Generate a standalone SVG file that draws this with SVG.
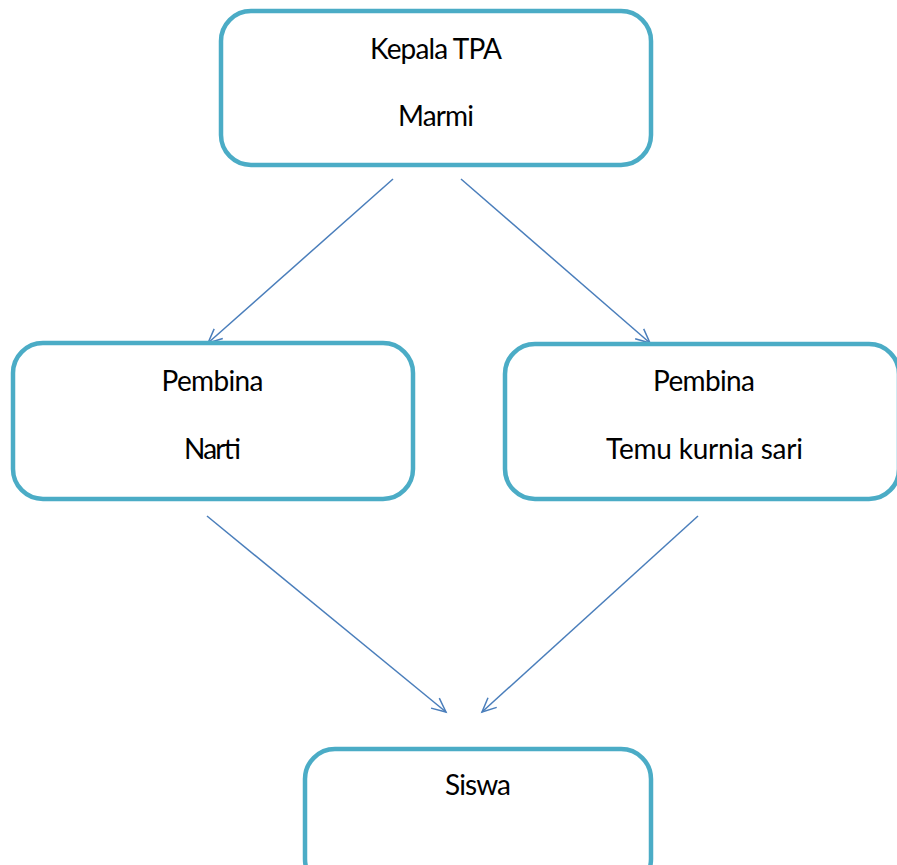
<svg xmlns="http://www.w3.org/2000/svg" width="897" height="865" viewBox="0 0 897 865">
<style>
.box{fill:#fff;stroke:#4BACC6;stroke-width:4.5}
.t{font-family:Lato,"Liberation Sans",sans-serif;font-size:28px;fill:#000;text-anchor:middle}
.c{stroke:#4A7EBB;stroke-width:1.5;fill:none}
</style>
<defs>
<marker id="arr" markerUnits="userSpaceOnUse" markerWidth="30" markerHeight="30" viewBox="-15 -15 30 30" refX="0" refY="0" orient="auto">
<path d="M -14 -6.5 L 0 0 L -14 6.5" fill="none" stroke="#4A7EBB" stroke-width="1.5"/>
</marker>
</defs>
<rect width="897" height="865" fill="#fff"/>
<g id="connectors">
<line class="c" x1="393" y1="179" x2="208" y2="343" marker-end="url(#arr)"/>
<line class="c" x1="461" y1="179" x2="650" y2="343" marker-end="url(#arr)"/>
<line class="c" x1="207" y1="516" x2="446" y2="712" marker-end="url(#arr)"/>
<line class="c" x1="698" y1="516" x2="482" y2="712" marker-end="url(#arr)"/>
</g>
<g id="kepala">
<rect class="box" x="221" y="11" width="430" height="154" rx="30"/>
<text class="t" x="436" y="59" textLength="132">Kepala TPA</text>
<text class="t" x="436" y="126" textLength="76">Marmi</text>
</g>
<g id="pembina-narti">
<rect class="box" x="13" y="343" width="400" height="156" rx="30"/>
<text class="t" x="212.5" y="391" textLength="102">Pembina</text>
<text class="t" x="212.5" y="459" textLength="57">Narti</text>
</g>
<g id="pembina-temu">
<rect class="box" x="505" y="344" width="394" height="155" rx="30"/>
<text class="t" x="704" y="391" textLength="102">Pembina</text>
<text class="t" x="704.5" y="459" textLength="197">Temu kurnia sari</text>
</g>
<g id="siswa">
<rect class="box" x="305" y="749" width="346" height="140" rx="30"/>
<text class="t" x="478" y="795" textLength="66">Siswa</text>
</g>
</svg>
